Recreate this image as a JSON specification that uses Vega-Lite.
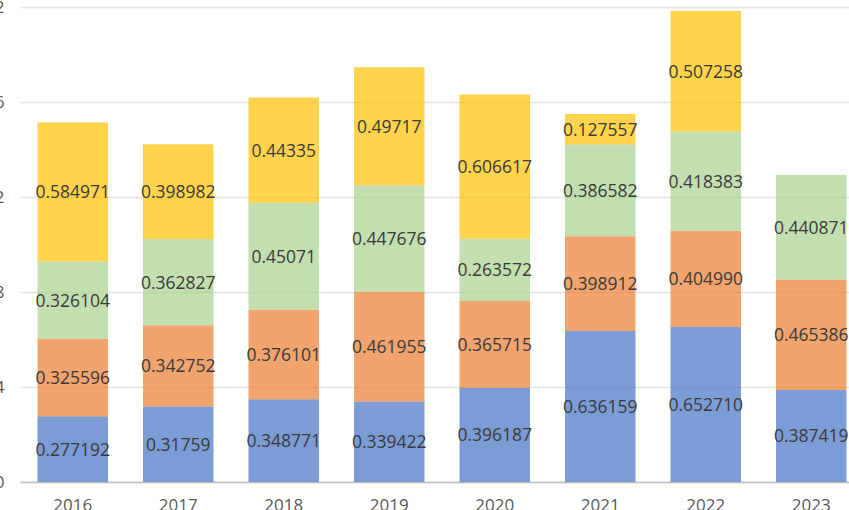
{
  "$schema": "https://vega.github.io/schema/vega-lite/v6.json",
  "width": 829,
  "height": 475,
  "autosize": {"type": "none"},
  "padding": {"left": 20, "top": 7, "right": 0, "bottom": 28},
  "background": "white",
  "config": {"view": {"stroke": null}, "font": "Open Sans"},
  "data": {
    "values": [
      {"year": "2016", "series": "A", "order": 1, "value": 0.277192, "label": "0.277192"},
      {"year": "2016", "series": "B", "order": 2, "value": 0.325596, "label": "0.325596"},
      {"year": "2016", "series": "C", "order": 3, "value": 0.326104, "label": "0.326104"},
      {"year": "2016", "series": "D", "order": 4, "value": 0.584971, "label": "0.584971"},
      {"year": "2017", "series": "A", "order": 1, "value": 0.31759, "label": "0.31759"},
      {"year": "2017", "series": "B", "order": 2, "value": 0.342752, "label": "0.342752"},
      {"year": "2017", "series": "C", "order": 3, "value": 0.362827, "label": "0.362827"},
      {"year": "2017", "series": "D", "order": 4, "value": 0.398982, "label": "0.398982"},
      {"year": "2018", "series": "A", "order": 1, "value": 0.348771, "label": "0.348771"},
      {"year": "2018", "series": "B", "order": 2, "value": 0.376101, "label": "0.376101"},
      {"year": "2018", "series": "C", "order": 3, "value": 0.45071, "label": "0.45071"},
      {"year": "2018", "series": "D", "order": 4, "value": 0.44335, "label": "0.44335"},
      {"year": "2019", "series": "A", "order": 1, "value": 0.339422, "label": "0.339422"},
      {"year": "2019", "series": "B", "order": 2, "value": 0.461955, "label": "0.461955"},
      {"year": "2019", "series": "C", "order": 3, "value": 0.447676, "label": "0.447676"},
      {"year": "2019", "series": "D", "order": 4, "value": 0.49717, "label": "0.49717"},
      {"year": "2020", "series": "A", "order": 1, "value": 0.396187, "label": "0.396187"},
      {"year": "2020", "series": "B", "order": 2, "value": 0.365715, "label": "0.365715"},
      {"year": "2020", "series": "C", "order": 3, "value": 0.263572, "label": "0.263572"},
      {"year": "2020", "series": "D", "order": 4, "value": 0.606617, "label": "0.606617"},
      {"year": "2021", "series": "A", "order": 1, "value": 0.636159, "label": "0.636159"},
      {"year": "2021", "series": "B", "order": 2, "value": 0.398912, "label": "0.398912"},
      {"year": "2021", "series": "C", "order": 3, "value": 0.386582, "label": "0.386582"},
      {"year": "2021", "series": "D", "order": 4, "value": 0.127557, "label": "0.127557"},
      {"year": "2022", "series": "A", "order": 1, "value": 0.65271, "label": "0.652710"},
      {"year": "2022", "series": "B", "order": 2, "value": 0.40499, "label": "0.404990"},
      {"year": "2022", "series": "C", "order": 3, "value": 0.418383, "label": "0.418383"},
      {"year": "2022", "series": "D", "order": 4, "value": 0.507258, "label": "0.507258"},
      {"year": "2023", "series": "A", "order": 1, "value": 0.387419, "label": "0.387419"},
      {"year": "2023", "series": "B", "order": 2, "value": 0.465386, "label": "0.465386"},
      {"year": "2023", "series": "C", "order": 3, "value": 0.440871, "label": "0.440871"}
    ]
  },
  "transform": [
    {"stack": "value", "groupby": ["year"], "sort": [{"field": "order", "order": "ascending"}], "as": ["v0", "v1"]},
    {"calculate": "(datum.v0 + datum.v1) / 2", "as": "mid"}
  ],
  "encoding": {
    "x": {
      "field": "year",
      "type": "ordinal",
      "scale": {"range": [0, 844], "paddingInner": 0.332, "paddingOuter": 0.166},
      "axis": {
        "title": null,
        "labelAngle": 0,
        "ticks": false,
        "domain": true,
        "domainColor": "#bfbfbf",
        "domainWidth": 1.5,
        "labelPadding": 15,
        "labelFontSize": 17,
        "labelColor": "#595959",
        "labelFont": "Open Sans",
        "grid": false
      }
    }
  },
  "layer": [
    {
      "mark": {"type": "bar", "opacity": 0.7},
      "encoding": {
        "y": {
          "field": "v0",
          "type": "quantitative",
          "scale": {"domain": [0, 2], "nice": false},
          "axis": {
            "title": null,
            "values": [0, 0.4, 0.8, 1.2, 1.6, 2],
            "format": ".1~f",
            "grid": true,
            "gridColor": "#e3e3e3",
            "gridWidth": 1.3,
            "domain": false,
            "ticks": false,
            "labelPadding": 16,
            "labelFontSize": 17,
            "labelColor": "#595959",
            "labelFont": "Open Sans"
          }
        },
        "y2": {"field": "v1"},
        "color": {
          "field": "series",
          "type": "nominal",
          "scale": {"domain": ["A", "B", "C", "D"], "range": ["#4472C4", "#ED7D31", "#A9D18E", "#FFC000"]},
          "legend": null
        }
      }
    },
    {
      "mark": {"type": "text", "font": "Open Sans", "fontSize": 17.5, "color": "#3a3a3a", "dy": 1.5},
      "encoding": {
        "y": {
          "field": "mid",
          "type": "quantitative",
          "axis": {
            "title": null,
            "values": [0, 0.4, 0.8, 1.2, 1.6, 2],
            "format": ".1~f",
            "grid": true,
            "gridColor": "#e3e3e3",
            "gridWidth": 1.3,
            "domain": false,
            "ticks": false,
            "labelPadding": 16,
            "labelFontSize": 17,
            "labelColor": "#595959",
            "labelFont": "Open Sans"
          }
        },
        "text": {"field": "label"}
      }
    }
  ]
}
